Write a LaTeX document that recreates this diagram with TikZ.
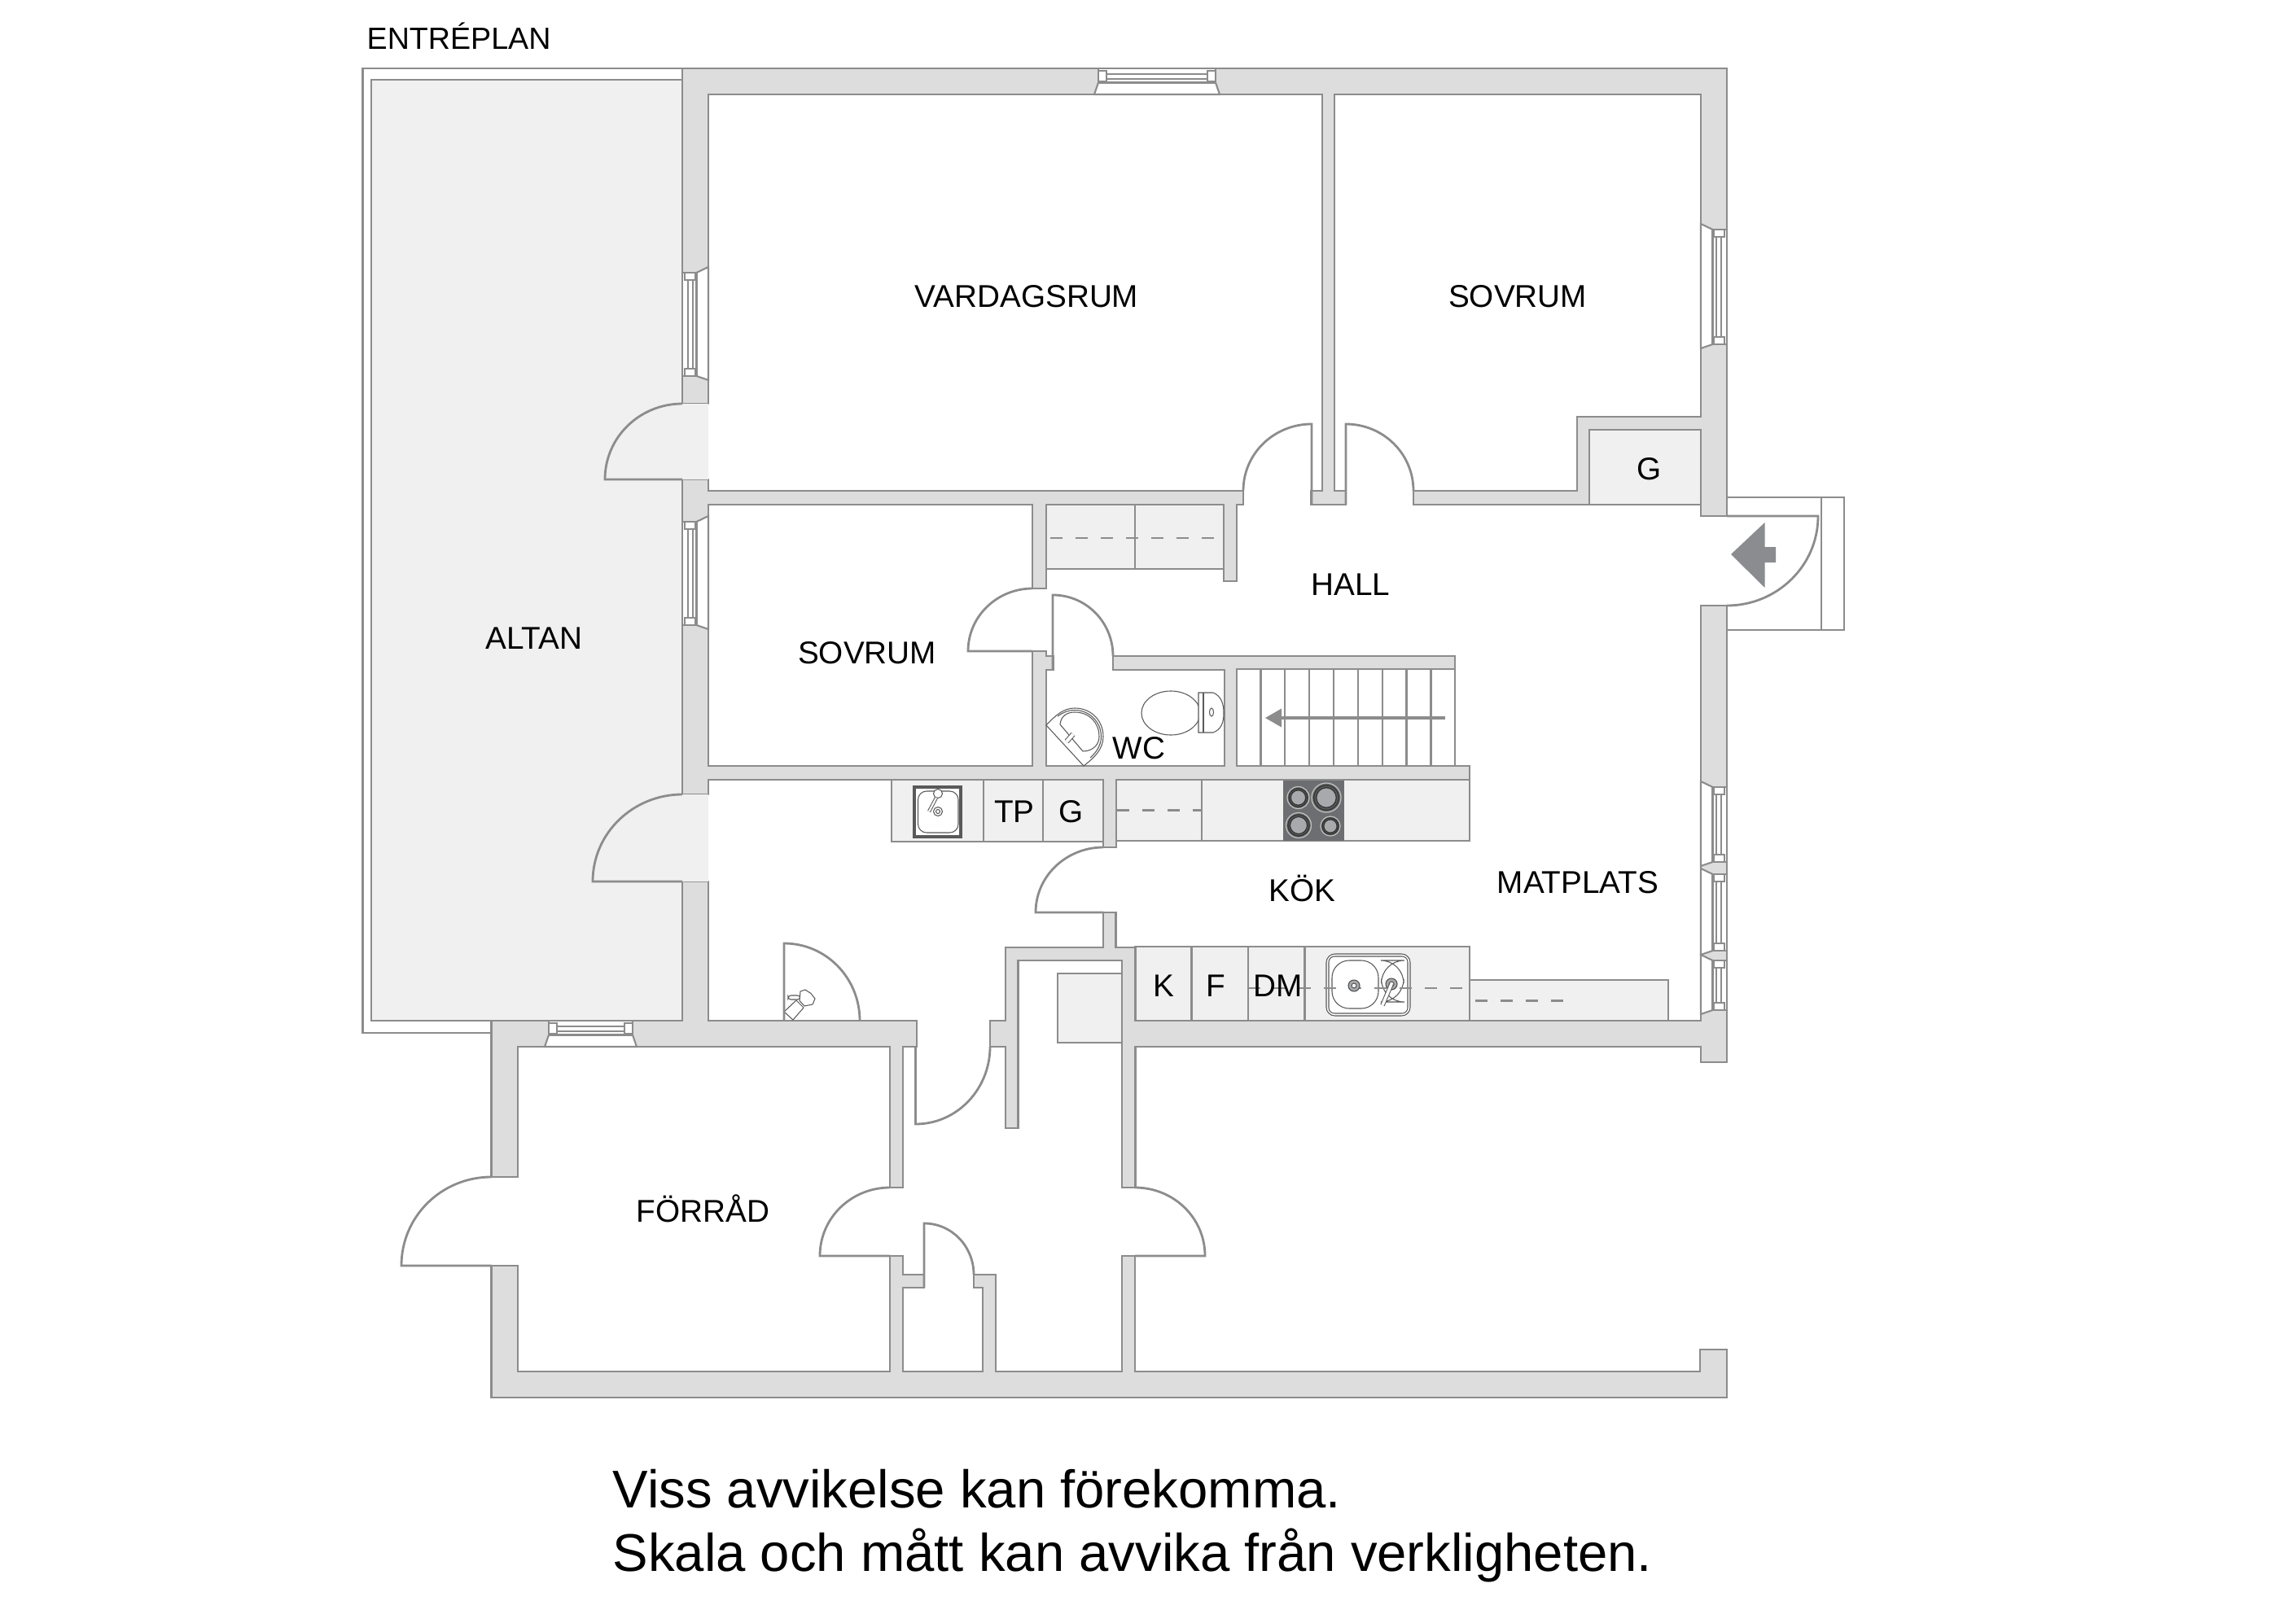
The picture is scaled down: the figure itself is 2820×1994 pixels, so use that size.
\documentclass[tikz,border=0pt]{standalone}
\usepackage{fontspec}
\setmainfont{Liberation Sans}
\usepackage{xcolor}
\usetikzlibrary{calc}
\definecolor{linegray}{HTML}{8C8C8C}
\definecolor{wallgray}{HTML}{DDDDDD}
\definecolor{floorgray}{HTML}{F0F0F0}
\definecolor{hobgray}{HTML}{6D6E71}
\definecolor{ringgray}{HTML}{A7A9AC}
\definecolor{signgray}{HTML}{8A8C8F}
\tikzset{
        wall/.style = {draw=linegray, fill=wallgray, line width=.8pt},
        storage/.style = {draw=linegray, fill=floorgray, line width=.8pt},
        glass/.style = {draw=linegray, fill=white, line width=.6pt},
        doorleaf/.style = {draw=linegray, line width=.8pt},
        dashline/.style = {draw=linegray, line width=.8pt, dash pattern=on 4.3pt off 4.5pt},
        fixture/.style = {draw=black!65, fill=white, line width=.3pt},
        roomlabel/.style = {anchor=base, inner sep=0pt, font=\fontsize{11}{13}\selectfont},
        notetext/.style = {anchor=base west, inner sep=0pt, font=\fontsize{18.55}{22}\selectfont},
    }
\newcommand{\windowv}[4]{
        \filldraw[glass] (#1+#2*17.5,#3) -- (#1+#2*32,#3-7) -- (#1+#2*32,#4+5) -- (#1+#2*17.5,#4) -- cycle;
        \filldraw[glass] (#1,#3) rectangle (#1+#2*17.5,#4);
        \draw[glass] (#1+#2*3,#3) rectangle (#1+#2*16,#3+9);
        \draw[glass] (#1+#2*3,#4-9) rectangle (#1+#2*16,#4);
        \draw[glass] (#1+#2*7,#3+9) -- (#1+#2*7,#4-9) (#1+#2*13,#3+9) -- (#1+#2*13,#4-9);
    }
\newcommand{\windowh}[3]{
        \filldraw[glass] (#2,#1+17.5) -- (#2-5,#1+32) -- (#3+5,#1+32) -- (#3,#1+17.5) -- cycle;
        \filldraw[glass] (#2,#1) rectangle (#3,#1+17.5);
        \draw[glass] (#2,#1+3) rectangle (#2+10,#1+16);
        \draw[glass] (#3-10,#1+3) rectangle (#3,#1+16);
        \draw[glass] (#2+10,#1+7) -- (#3-10,#1+7) (#2+10,#1+13) -- (#3-10,#1+13);
    }

\begin{document}
\begin{tikzpicture}[x=0.01cm,y=-0.01cm]
    \useasboundingbox (0,0) rectangle (2820,1994);

    % altan
    \filldraw[glass, line width=.8pt] (445.5,84) rectangle (838,1269);
    \filldraw[storage] (456,98) rectangle (838,1254);

    % walls
    \filldraw[wall] (838,84) -- (2121,84) -- (2121,634) -- (2089,634) -- (2089,620) -- (1736,620) -- (1736,603)
        -- (1937,603) -- (1937,512) -- (2089,512) -- (2089,116) -- (1639,116) -- (1639,603) -- (1653,603)
        -- (1653,620) -- (1610,620) -- (1610,603) -- (1624,603) -- (1624,116) -- (870,116) -- (870,496)
        -- (838,496) -- cycle;
    \filldraw[wall] (838,589) -- (870,589) -- (870,603) -- (1527,603) -- (1527,620) -- (1519,620) -- (1519,714)
        -- (1503,714) -- (1503,620) -- (1285,620) -- (1285,723) -- (1268,723) -- (1268,620) -- (870,620)
        -- (870,941) -- (1268,941) -- (1268,800) -- (1285,800) -- (1285,806) -- (1294,806) -- (1294,823)
        -- (1285,823) -- (1285,941) -- (1504,941) -- (1504,823) -- (1367,823) -- (1367,806) -- (1787,806)
        -- (1787,822) -- (1519,822) -- (1519,941) -- (1805,941) -- (1805,958) -- (1371,958) -- (1371,1041)
        -- (1355,1041) -- (1355,958) -- (870,958) -- (870,976) -- (838,976) -- cycle;
    \filldraw[wall] (838,1083) -- (870,1083) -- (870,1254) -- (1126,1254) -- (1126,1286) -- (1109,1286)
        -- (1109,1459) -- (1093,1459) -- (1093,1286) -- (636,1286) -- (636,1446) -- (603.5,1446)
        -- (603.5,1254) -- (838,1254) -- cycle;
    \filldraw[wall] (603.5,1555) -- (636,1555) -- (636,1685) -- (1093,1685) -- (1093,1543) -- (1109,1543)
        -- (1109,1566) -- (1135,1566) -- (1135,1582) -- (1109,1582) -- (1109,1685) -- (1207,1685) -- (1207,1582)
        -- (1196,1582) -- (1196,1566) -- (1223,1566) -- (1223,1685) -- (1378,1685) -- (1378,1543) -- (1394,1543)
        -- (1394,1685) -- (2088,1685) -- (2088,1658) -- (2121,1658) -- (2121,1717) -- (603.5,1717) -- cycle;
    \filldraw[wall] (1216,1254) -- (1235,1254) -- (1235,1164) -- (1355,1164) -- (1355,1121) -- (1370.5,1121)
        -- (1370.5,1164) -- (1394.7,1164) -- (1394.7,1254) -- (2089,1254) -- (2089,744) -- (2121,744)
        -- (2121,1305) -- (2089,1305) -- (2089,1286) -- (1394.7,1286) -- (1394.7,1459) -- (1378,1459)
        -- (1378,1180) -- (1250.5,1180) -- (1250.5,1386) -- (1235,1386) -- (1235,1286) -- (1216,1286) -- cycle;

    % closets and counters
    \filldraw[storage] (1952,528) rectangle (2089,620);
    \filldraw[storage] (1285,620) rectangle (1394,699);
    \filldraw[storage] (1394,620) rectangle (1503,699);
    \draw[dashline] (1290,661) -- (1498,661);
    \filldraw[storage] (1095,958) rectangle (1208,1034);
    \filldraw[storage] (1208,958) rectangle (1281,1034);
    \filldraw[storage] (1281,958) rectangle (1355,1034);
    \filldraw[storage] (1371,958) rectangle (1476,1033);
    \filldraw[storage] (1476,958) rectangle (1805,1033);
    \draw[dashline] (1372,995.5) -- (1476,995.5);
    \filldraw[storage] (1299,1196) rectangle (1378,1281);
    \filldraw[storage] (1805,1204) rectangle (2049,1254);
    \foreach \xa/\xb in {1394.7/1463.5, 1463.5/1533, 1533/1602.5, 1602.5/1805}
        \filldraw[storage] (\xa,1163) rectangle (\xb,1254);
    \draw[dashline] (1812,1229.7) -- (1926,1229.7);

    % stairs
    \draw[doorleaf] (1787,822) -- (1787,941);
    \foreach \s in {1548.5,1578,1608,1638,1668,1698,1727.6,1757.5}
        \draw[doorleaf] (\s,822) -- (\s,941);
    \draw[draw=linegray, line width=1pt] (1775,882) -- (1570,882);
    \fill[linegray] (1554,882) -- (1574,870.5) -- (1574,893.5) -- cycle;

    % hob
    \fill[hobgray] (1575.5,959) rectangle (1651,1033);
    \foreach \cx/\cy/\cr in {1594.5/980/.135, 1629/980/.18, 1595/1014/.155, 1634/1015/.12} {
        \draw[black!25, line width=.35pt] (\cx,\cy) circle[radius=\cr cm];
        \filldraw[draw=black!80, fill=black!65, line width=.35pt] (\cx,\cy) circle[radius=\cr*0.85 cm];
        \filldraw[draw=black!80, fill=ringgray, line width=.35pt] (\cx,\cy) circle[radius=\cr*0.68 cm];
    }

    % sinks
    \filldraw[fixture] (1122,966) rectangle (1181,1029);
    \draw[fixture] (1124,968) rectangle (1179,1027);
    \draw[fixture, rounded corners=3pt] (1127.5,972) rectangle (1177,1023);
    \draw[fixture] (1152,975) circle[radius=.055cm];
    \draw[fixture] (1152,997) circle[radius=.055cm] (1152,997) circle[radius=.025cm];
    \draw[fixture, double, double distance=.6pt] (1150,980) -- (1141,997);
    \filldraw[fixture, rounded corners=3pt] (1629,1172) rectangle (1732,1248);
    \draw[fixture, rounded corners=2pt] (1632,1175) rectangle (1729,1245);
    \draw[fixture, rounded corners=6pt] (1636,1180) rectangle (1693,1239);
    \draw[fixture, rounded corners=8pt] (1696.6,1180) rectangle (1724,1231);
    \draw[dashline] (1533,1214) -- (1805,1214);
    \foreach \cx/\cy in {1663/1211, 1709/1209} {
        \filldraw[draw=black!70, fill=ringgray, line width=.3pt] (\cx,\cy) circle[radius=.07cm];
        \draw[fixture] (\cx,\cy) circle[radius=.03cm];
    }
    \draw[fixture, double, double distance=1pt] (1709,1209) -- (1698,1235);

    % toilet and washbasin
    \filldraw[fixture] (1438,876) ellipse (.36cm and .27cm);
    \filldraw[fixture] (1472,851) -- (1490,851) .. controls (1500,855) and (1503,865) .. (1503,876)
        .. controls (1503,888) and (1500,896) .. (1490,900) -- (1472,900) -- cycle;
    \draw[fixture] (1478,851) -- (1478,900);
    \draw[fixture] (1488,875) ellipse (.025cm and .05cm);
    \filldraw[fixture] (1285,891) .. controls (1297,878) and (1307,870) .. (1320,870)
        .. controls (1340,870) and (1355,885) .. (1355,905) .. controls (1355,920) and (1345,930) .. (1331,941) -- cycle;
    \draw[fixture] (1299,880) .. controls (1306,875) and (1312,872.5) .. (1320,872.5)
        .. controls (1338,872.5) and (1352.5,887) .. (1352.5,905) .. controls (1352.5,915) and (1347,924) .. (1339,931);
    \draw[fixture] (1302,890) .. controls (1303,880) and (1310,875) .. (1320,875)
        .. controls (1338,875) and (1350,888) .. (1350,905) .. controls (1350,915) and (1342,923) .. (1330,923) -- cycle;
    \draw[fixture, double, double distance=1.2pt] (1310,911) -- (1318,902);

    % extinguisher by the door
    \filldraw[fixture] (963,1243) -- (974,1253) -- (987,1238) -- (978,1229) -- cycle;
    \filldraw[fixture, rounded corners=1pt] (968,1223) -- (983,1223) -- (983,1228) -- (968,1228) -- cycle;
    \filldraw[fixture] (983,1218) -- (989,1216) -- (996,1220.5) -- (1001,1227) -- (998,1234) -- (988,1236) -- (982,1229.5) -- cycle;

    % windows
    \windowh{84}{1349}{1493}
    \windowh{1254}{674}{777}
    \windowv{838}{1}{335}{462}
    \windowv{838}{1}{641}{768}
    \windowv{2121}{-1}{282}{423}
    \windowv{2121}{-1}{967}{1059}
    \windowv{2121}{-1}{1074}{1168}
    \windowv{2121}{-1}{1180}{1241}

    % entrance step
    \draw[doorleaf] (2121,611) -- (2265,611) -- (2265,774) -- (2121,774);
    \draw[doorleaf] (2237,611) -- (2237,774);
    \fill[white] (2122,635) -- (2233,635) to[out=-90,in=0] (2122,743) -- cycle;
    \fill[signgray] (2126,681) -- (2167.5,642) -- (2167.5,672) -- (2181,672) -- (2181,691) -- (2167.5,691) -- (2167.5,722) -- cycle;

    % doors
    \fill[floorgray] (838,496) to[out=180,in=90] (743,589) -- (870,589) -- (870,496) -- cycle;
    \fill[floorgray] (838,976) to[out=180,in=90] (728,1083) -- (870,1083) -- (870,976) -- cycle;
    \foreach \lx/\ly/\tx/\ty/\hx/\oa in {
        838/496/743/589/838/180,
        838/976/728/1083/838/180,
        1268/723/1189/800/1268/180,
        1355/1041/1272/1121/1355/180,
        1093/1459/1007/1543/1093/180,
        1394/1459/1480/1543/1394/0,
        603.5/1446/493/1555/603.5/180
    }
        \draw[doorleaf] (\lx,\ly) to[out=\oa,in=90] (\tx,\ty) -- (\hx,\ty);
    \foreach \lx/\ly/\ey/\tx/\ty/\oa in {
        1293/731/823/1367/806/0,
        1611/521/620/1527/603/180,
        1653/521/620/1736/603/0,
        963/1159/1254/1056/1254/0,
        1135/1503/1582/1196/1566/0
    }
        \draw[doorleaf] (\lx,\ey) -- (\lx,\ly) to[out=\oa,in=90] (\tx,\ty);
    \draw[doorleaf] (1124.5,1286) -- (1124.5,1381) to[out=0,in=-90] (1216,1286);
    \draw[doorleaf] (2121,634) -- (2233,634) to[out=-90,in=0] (2121,744);

    % room names
    \node[roomlabel, anchor=base west, font=\fontsize{10.7}{13}\selectfont] (entreplan) at (450,61) {ENTRÉPLAN};
    \node[roomlabel] (vardagsrum) at (1261,377) {VARDAGSRUM};
    \node[roomlabel] (sovrumA) at (1864,377) {SOVRUM};
    \node[roomlabel] (altan) at (656,797) {ALTAN};
    \node[roomlabel] (sovrumB) at (1065,815) {SOVRUM};
    \node[roomlabel] (hall) at (1659,731) {HALL};
    \node[roomlabel] (garderobA) at (2026,589) {G};
    \node[roomlabel] (wc) at (1399,932) {WC};
    \node[roomlabel] (tp) at (1246,1010) {TP};
    \node[roomlabel] (garderobB) at (1316,1010) {G};
    \node[roomlabel] (kok) at (1599.5,1107.6) {KÖK};
    \node[roomlabel] (matplats) at (1938,1097) {MATPLATS};
    \node[roomlabel] (kyl) at (1429,1224) {K};
    \node[roomlabel] (frys) at (1493,1224) {F};
    \node[roomlabel] (dm) at (1570,1224) {DM};
    \node[roomlabel] (forrad) at (863.6,1501) {FÖRRÅD};

    \node[notetext] (noteA) at (752,1852) {Viss avvikelse kan förekomma.};
    \node[notetext] (noteB) at (752,1930) {Skala och mått kan avvika från verkligheten.};
\end{tikzpicture}
\end{document}
